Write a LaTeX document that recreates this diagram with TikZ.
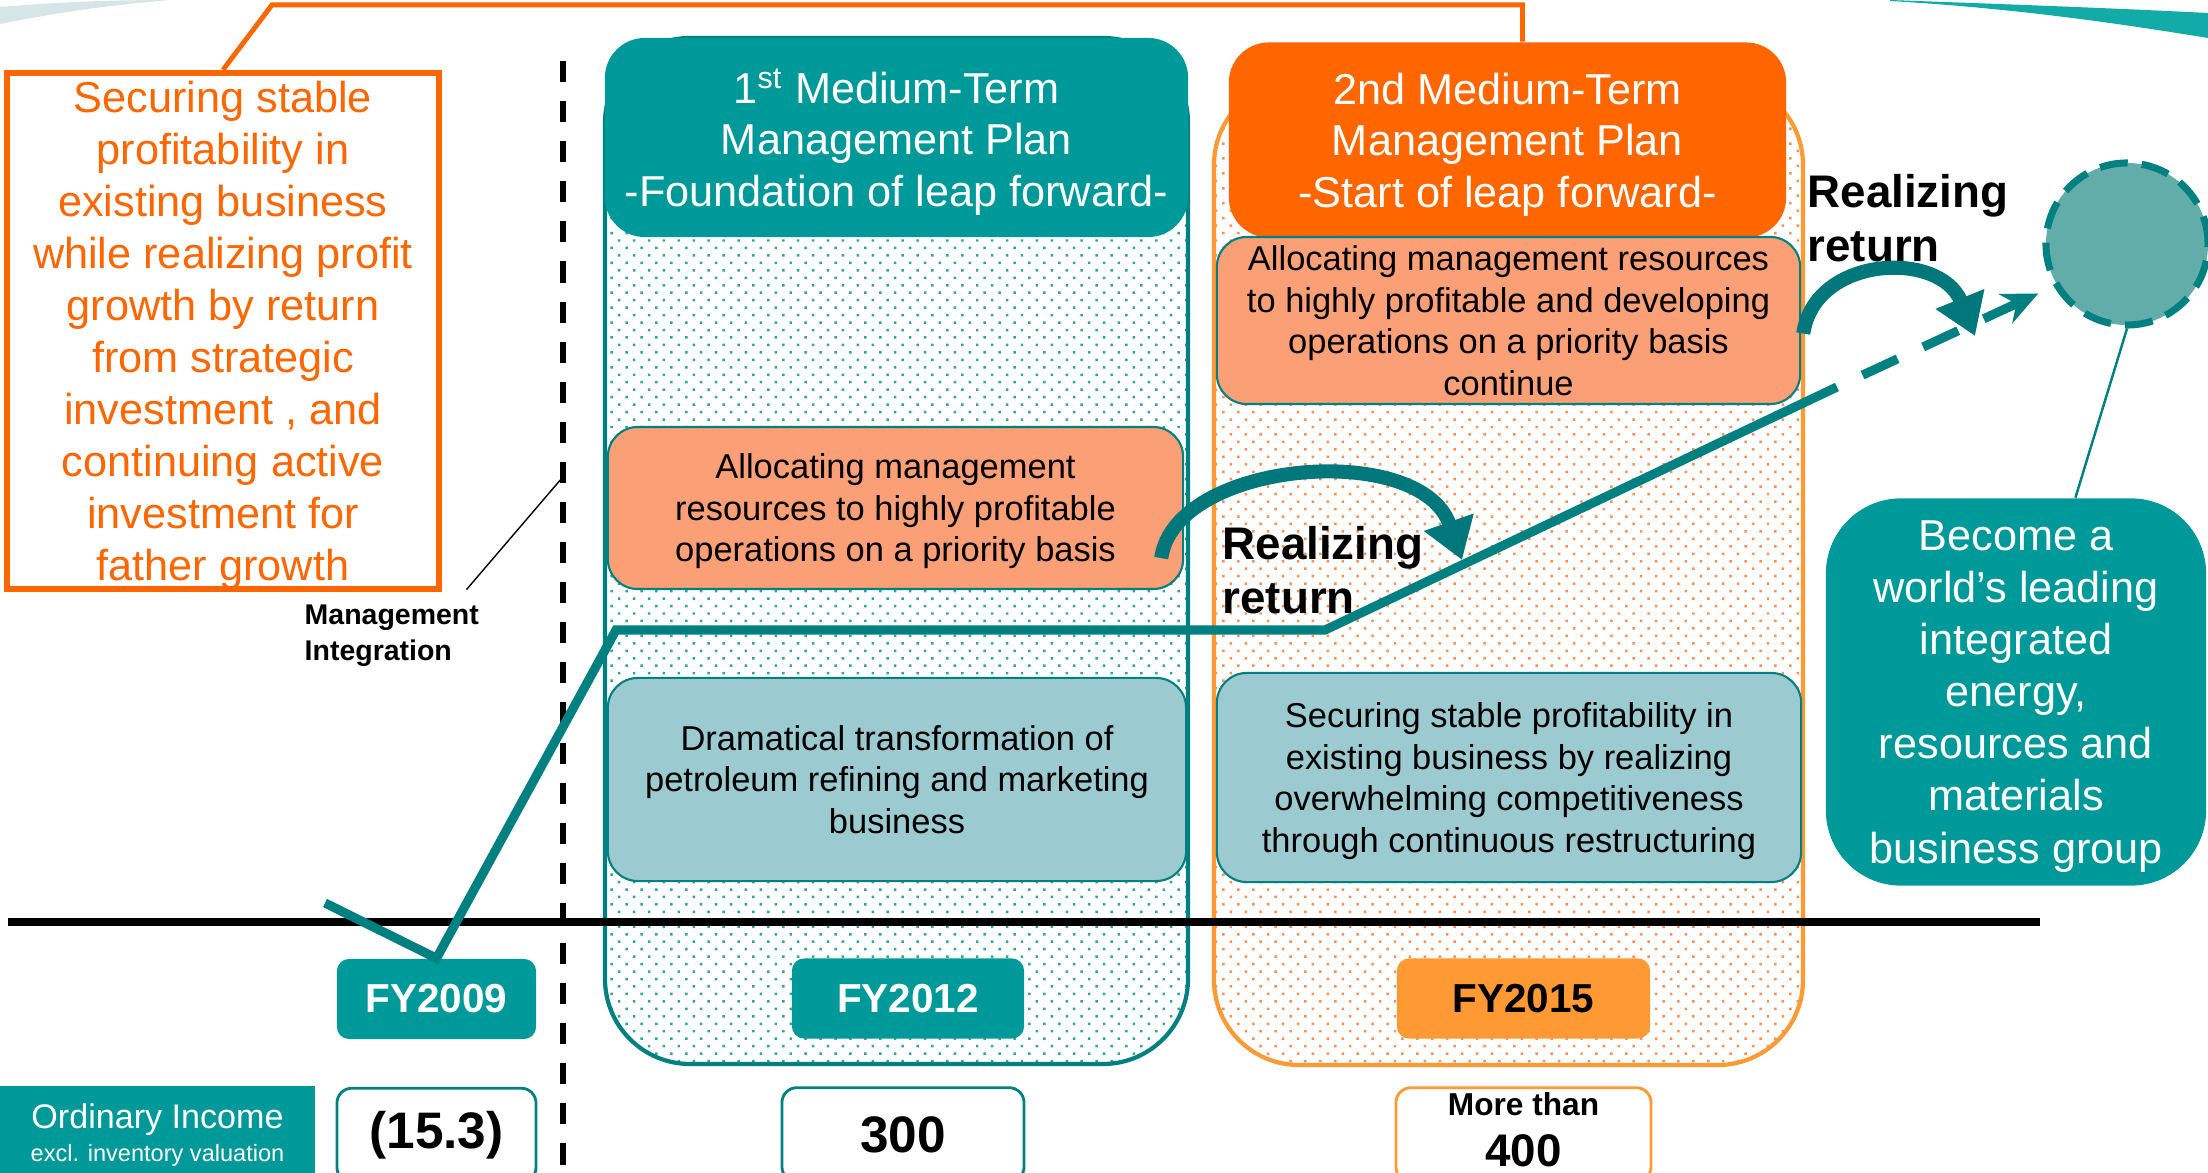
\documentclass[tikz,border=0pt]{standalone}
\usepackage{fontspec}
\setmainfont{Liberation Sans}
\usepackage{tikz}
\usetikzlibrary{arrows.meta,calc,patterns.meta}
\usetikzlibrary{positioning}
\definecolor{clrTeal}{HTML}{009999}
\definecolor{clrTealDark}{HTML}{008080}
\definecolor{clrArc}{HTML}{00777A}
\definecolor{clrOrange}{HTML}{FF6600}
\definecolor{clrOrangeLight}{HTML}{FF9933}
\definecolor{clrSalmon}{HTML}{FA9F76}
\definecolor{clrBlue}{HTML}{9BCBD0}
\definecolor{clrDotTeal}{HTML}{2FA3A3}
\definecolor{clrDotOrange}{HTML}{FF9050}
\definecolor{clrGoal}{HTML}{62ACAA}
\definecolor{clrSwoosh}{HTML}{12ABA7}
\definecolor{clrHaze}{HTML}{D6E6E6}
\tikzstyle{plan_frame}=[line width=1.2pt, rounded corners=0.85cm]
\tikzstyle{plan_head}=[rounded corners=0.4cm, text=white, align=center, inner sep=0pt, text depth=0pt,
font=\fontsize{12.3}{14.6}\selectfont]
\tikzstyle{inner_box}=[draw=clrTealDark, line width=0.6pt, rounded corners=0.3cm, text depth=0pt,
align=center, inner sep=0pt, font=\fontsize{9.8}{11.8}\selectfont]
\tikzstyle{fy_box}=[rounded corners=0.12cm, inner sep=0pt, minimum height=0.8cm,
font=\fontsize{11.5}{13}\selectfont\bfseries]
\tikzstyle{fy_teal}=[fy_box, fill=clrTeal, text=white]
\tikzstyle{value_box}=[draw=clrTealDark, line width=0.8pt, fill=white, rounded corners=0.15cm,
inner sep=0pt, align=center, minimum height=0.94cm, font=\fontsize{14.6}{17}\selectfont\bfseries]
\tikzstyle{return_label}=[anchor=west, align=left, inner sep=0pt, font=\fontsize{13}{15.2}\selectfont\bfseries]
\tikzstyle{myarrow}=[-{Triangle[length=0.4cm,width=0.5cm]}, line width=4pt, draw=clrArc]
\tikzstyle{trend}=[line width=2.6pt, draw=clrTealDark]
\tikzstyle{callout}=[draw=clrOrange, line width=1.7pt, text=clrOrange, fill=white, align=center, text depth=-0.8pt,
inner sep=0pt, minimum width=4.32cm, minimum height=5.16cm, font=\fontsize{12.3}{14.8}\selectfont]
\tikzstyle{white_text}=[text=white, align=center, inner sep=0pt, text depth=0pt, font=\fontsize{12.3}{14.8}\selectfont]
\begin{document}
\begin{tikzpicture}[x=0.01cm, y=-0.01cm]
	\useasboundingbox (0,0) rectangle (2208,1173);
	% slide swooshes
	\fill[clrHaze] (0,7) .. controls (60,2) and (110,0) .. (170,0) .. controls (100,6) and (50,14) .. (0,24) -- cycle;
	\fill[clrSwoosh] (1890,0) .. controls (2000,4) and (2110,8) .. (2208,13) -- (2208,38) .. controls (2110,22) and (2010,8) .. (1890,1) -- cycle;

	% the two plans
	\draw[plan_frame, draw=clrTealDark, pattern={Dots[distance=3pt,angle=45,radius=0.5pt]}, pattern color=clrDotTeal] (605,38) rectangle (1188,1064);
	\draw[plan_frame, draw=clrOrangeLight, pattern={Dots[distance=3pt,angle=45,radius=0.5pt]}, pattern color=clrDotOrange] (1214,80) rectangle (1803,1065);

	\node[plan_head, fill=clrTeal, minimum width=5.83cm, minimum height=1.99cm] (H1) at (896.5,137.5) {1\textsuperscript{st} Medium-Term\\Management Plan\\-Foundation of leap forward-};
	\node[plan_head, fill=clrOrange, minimum width=5.57cm, minimum height=1.95cm] (H2) at (1507.5,140) {2nd Medium-Term\\Management Plan\\-Start of leap forward-};

	\node[inner_box, fill=clrSalmon, minimum width=5.75cm, minimum height=1.62cm] (A) at (895.5,508) {Allocating management\\resources to highly profitable\\operations on a priority basis};
	\node[inner_box, fill=clrBlue, minimum width=5.78cm, minimum height=2.03cm] (B) at (897,779.5) {Dramatical transformation of\\petroleum refining and marketing\\business};
	\node[inner_box, fill=clrSalmon, minimum width=5.83cm, minimum height=1.67cm] (C) at (1508.5,320.5) {Allocating management resources\\to highly profitable and developing\\operations on a priority basis\\continue};
	\node[inner_box, fill=clrBlue, minimum width=5.84cm, minimum height=2.09cm] (D) at (1509,777.5) {Securing stable profitability in\\existing business by realizing\\overwhelming competitiveness\\through continuous restructuring};

	\coordinate (X1) at (8,922);
	\coordinate (X2) at (2040,922);
	\draw[line width=2pt] (X1) -- (X2);
	\coordinate (L1) at (563,61);
	\coordinate (L2) at (563,1173);
	\draw[line width=1.5pt, dash pattern=on 6pt off 5.4pt] (L1) -- (L2);

	% years and ordinary income
	\node[fy_teal, minimum width=1.99cm] (F09) at (436.5,999) {FY2009};
	\node[fy_teal, minimum width=2.32cm] (F12) at (908,998.5) {FY2012};
	\node[fy_box, fill=clrOrangeLight, minimum width=2.53cm] (F15) at (1523.5,998.5) {FY2015};
	\node[value_box, minimum width=1.99cm, below=0.47cm of F09] (V09) {(15.3)};
	\node[value_box, minimum width=2.42cm, below=0.47cm of F12, xshift=-0.05cm] (V12) {300};
	\node[value_box, draw=clrOrangeLight, minimum width=2.55cm, below=0.47cm of F15, text depth=3.2pt,
		font=\fontsize{13}{14.5}\selectfont\bfseries] (V15) {{\fontsize{9}{14.5}\selectfont More than}\\400};
	\node[white_text, fill=clrTeal, minimum width=3.15cm, minimum height=0.94cm,
		font=\fontsize{6.7}{9.4}\selectfont] (OI) at (157.5,1133) {{\fontsize{9.7}{9.4}\selectfont Ordinary Income}\\excl. inventory valuation};

	% goal
	\node[white_text, fill=clrTeal, rounded corners=0.75cm, minimum width=3.8cm, minimum height=3.87cm] (W) at (2016,692) {Become a\\world’s leading\\integrated\\energy,\\resources and\\materials\\business group};
	\node[circle, draw=clrTealDark, fill=clrGoal, line width=2pt, dash pattern=on 8pt off 4pt, minimum size=1.62cm, inner sep=0pt] (G) at (2127,244) {};
	\draw[clrTealDark, line width=0.7pt] (G.south) -- (W.73);

	% income trend
	\coordinate (T0) at (325,903);
	\coordinate (T1) at (616,630);
	\coordinate (T2) at (1325,630);
	\coordinate (T3) at (1837,387);
	\draw[trend] (T0) -- (F09.north) -- (T1) -- (T2) -- (T3);
	\draw[trend, dash pattern=on 11pt off 8pt, dash phase=11pt, -{Stealth[length=0.36cm,width=0.32cm]}, shorten >=0.17cm] (T3) -- (G.210);

	\coordinate (S1) at ($(A.south east)+(-23,-32)$);
	\coordinate (E1) at (1462,560);
	\draw[myarrow] (S1) .. controls (1175,460) and (1420,440) .. (E1);
	\coordinate (S2) at ($(C.east)+(2,13)$);
	\coordinate (E2) at (1975,336);
	\draw[myarrow] (S2) .. controls (1815,255) and (1940,250) .. (E2);

	\node[return_label] (R1) at (1222,570) {Realizing\\return};
	\node[return_label] (R2) at (1807,218) {Realizing\\return};

	\node[anchor=west, align=left, inner sep=0pt, font=\fontsize{8.1}{10.2}\selectfont\bfseries] (MI) at (304,636) {Management\\Integration};
	\coordinate (M1) at ($(MI.north east)+(-13,-15)$);
	\coordinate (M2) at (562,478);
	\draw[line width=0.4pt] (M1) -- (M2);

	% callout
	\node[callout] (O) at (223,331) {Securing stable\\profitability in\\existing business\\while realizing profit\\growth by return\\from strategic\\investment , and\\continuing active\\investment for\\father growth};
	\draw[clrOrange, line width=1.4pt] (O.north) -- ++(49,-65) -| ($(H2.north)+(15,0)$);
\end{tikzpicture}
\end{document}
